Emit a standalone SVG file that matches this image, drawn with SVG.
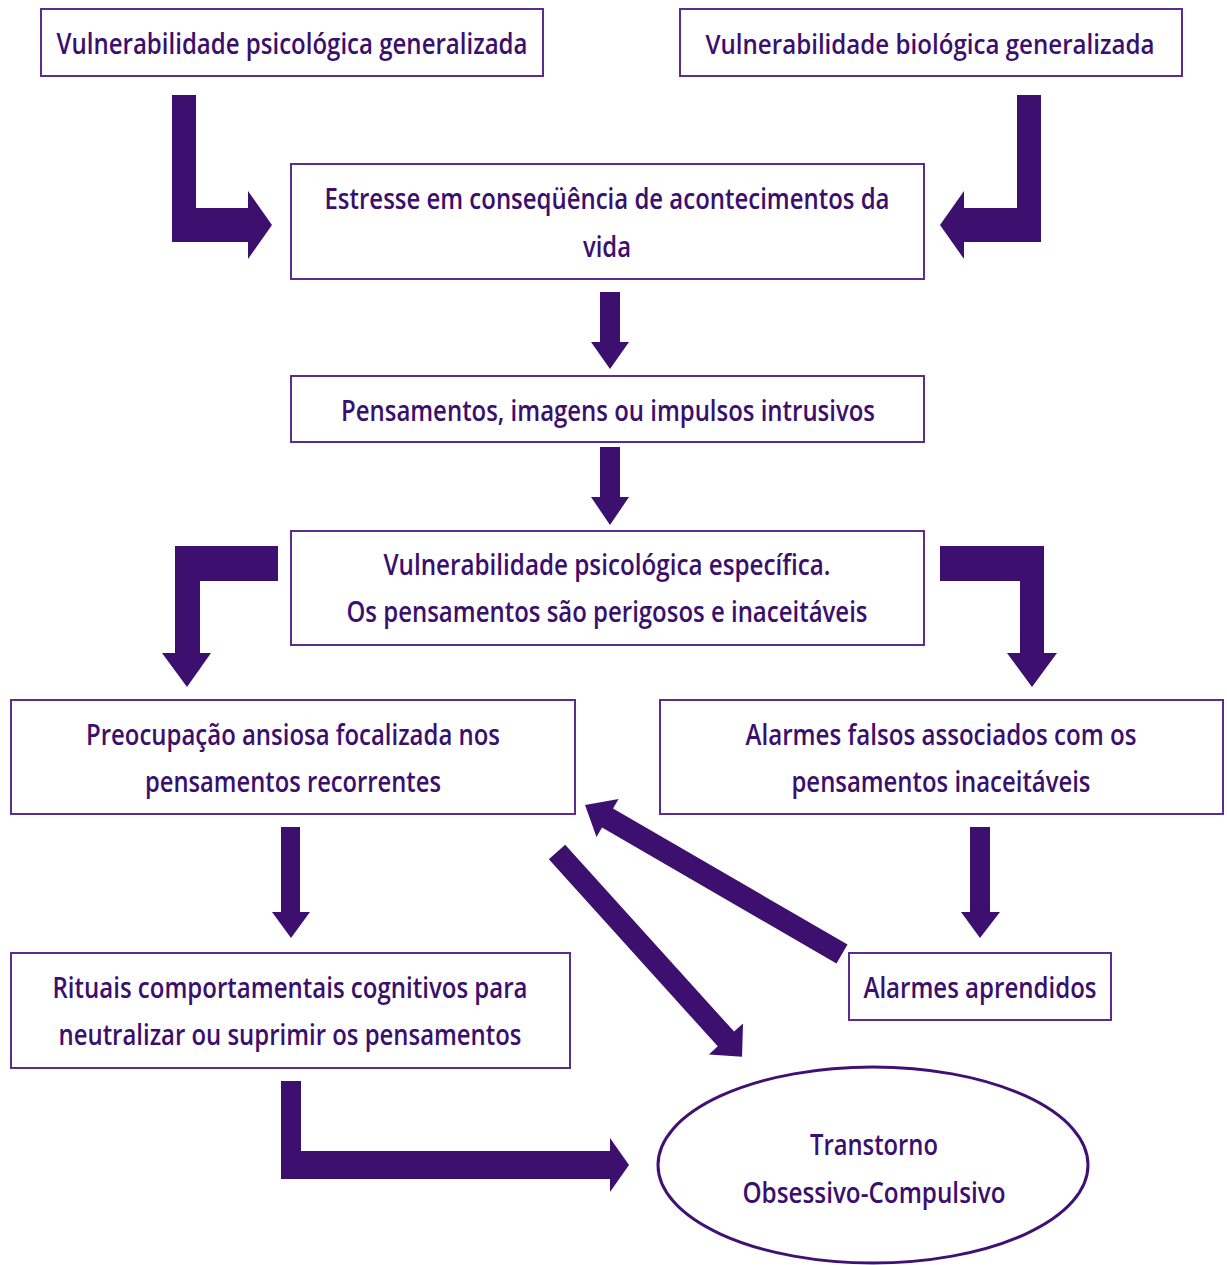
<svg xmlns="http://www.w3.org/2000/svg" width="1227" height="1265" viewBox="0 0 1227 1265">
<style>
.box{fill:#ffffff;stroke:#5b2d8e;stroke-width:2}
.ell{fill:#ffffff;stroke:#3f1172;stroke-width:3}
.arr{fill:#3d1070}
text{font-family:"Open Sans","Liberation Sans",sans-serif;font-size:29px;font-weight:600;fill:#3b0f6e;text-anchor:middle}
</style>
<rect width="1227" height="1265" fill="#ffffff"/>
<g id="connectors">
<polygon class="arr" points="172,95 196,95 196,208 248,208 248,191 272,225 248,259 248,242 172,242"/>
<polygon class="arr" points="1017,95 1041,95 1041,242 964,242 964,259 940,225 964,191 964,208 1017,208"/>
<polygon class="arr" points="600,292 620,292 620,342 629,342 610,369 591,342 600,342"/>
<polygon class="arr" points="600,447 620,447 620,497 629,497 610,525 591,497 600,497"/>
<polygon class="arr" points="278,546 278,581 200,581 200,653 211,653 187,687 162,653 175,653 175,546"/>
<polygon class="arr" points="940,546 1044,546 1044,653 1057,653 1032,687 1007,653 1020,653 1020,581 940,581"/>
<polygon class="arr" points="281,827 300,827 300,912 310,912 291,938 272,912 281,912"/>
<polygon class="arr" points="970,827 990,827 990,912 1000,912 980,938 961,912 970,912"/>
<polygon class="arr" points="281,1081 301,1081 301,1151 610,1151 610,1138 629,1165 610,1192 610,1179 281,1179"/>
<polygon class="arr" transform="translate(842,954) rotate(210.1)" points="0,-11 271,-11 271,-22 297,0 271,22 271,11 0,11"/>
<polygon class="arr" transform="translate(557,852) rotate(47.9)" points="0,-11 252,-11 252,-23 276,0 252,23 252,11 0,11"/>
</g>
<g id="n-vuln-psico">
<rect class="box" x="41" y="9" width="502" height="67"/>
<text x="292" y="54" textLength="471" lengthAdjust="spacingAndGlyphs">Vulnerabilidade psicológica generalizada</text>
</g>
<g id="n-vuln-bio">
<rect class="box" x="680" y="9" width="502" height="67"/>
<text x="930" y="54" style="font-size:27px" textLength="449" lengthAdjust="spacingAndGlyphs">Vulnerabilidade biológica generalizada</text>
</g>
<g id="n-estresse">
<rect class="box" x="291" y="164" width="633" height="115"/>
<text x="607" y="209" textLength="565" lengthAdjust="spacingAndGlyphs">Estresse em conseqüência de acontecimentos da</text>
<text x="607" y="257" textLength="48" lengthAdjust="spacingAndGlyphs">vida</text>
</g>
<g id="n-pensamentos">
<rect class="box" x="291" y="376" width="633" height="66"/>
<text x="608" y="421" textLength="534" lengthAdjust="spacingAndGlyphs">Pensamentos, imagens ou impulsos intrusivos</text>
</g>
<g id="n-vuln-especifica">
<rect class="box" x="291" y="531" width="633" height="114"/>
<text x="607" y="575" textLength="447" lengthAdjust="spacingAndGlyphs">Vulnerabilidade psicológica específica.</text>
<text x="607" y="622" textLength="521" lengthAdjust="spacingAndGlyphs">Os pensamentos são perigosos e inaceitáveis</text>
</g>
<g id="n-preocupacao">
<rect class="box" x="11" y="700" width="564" height="114"/>
<text x="293" y="745" textLength="414" lengthAdjust="spacingAndGlyphs">Preocupação ansiosa focalizada nos</text>
<text x="293" y="792" textLength="296" lengthAdjust="spacingAndGlyphs">pensamentos recorrentes</text>
</g>
<g id="n-alarmes-falsos">
<rect class="box" x="660" y="700" width="563" height="114"/>
<text x="941" y="745" textLength="391" lengthAdjust="spacingAndGlyphs">Alarmes falsos associados com os</text>
<text x="941" y="792" textLength="299" lengthAdjust="spacingAndGlyphs">pensamentos inaceitáveis</text>
</g>
<g id="n-rituais">
<rect class="box" x="11" y="953" width="559" height="115"/>
<text x="290" y="998" textLength="475" lengthAdjust="spacingAndGlyphs">Rituais comportamentais cognitivos para</text>
<text x="290" y="1045" textLength="463" lengthAdjust="spacingAndGlyphs">neutralizar ou suprimir os pensamentos</text>
</g>
<g id="n-alarmes-aprendidos">
<rect class="box" x="849" y="953" width="262" height="67"/>
<text x="980" y="998" textLength="233" lengthAdjust="spacingAndGlyphs">Alarmes aprendidos</text>
</g>
<g id="n-toc">
<ellipse class="ell" cx="873" cy="1165" rx="215" ry="98"/>
<text x="874" y="1155" textLength="128" lengthAdjust="spacingAndGlyphs">Transtorno</text>
<text x="874" y="1203" textLength="263" lengthAdjust="spacingAndGlyphs">Obsessivo-Compulsivo</text>
</g>
</svg>
